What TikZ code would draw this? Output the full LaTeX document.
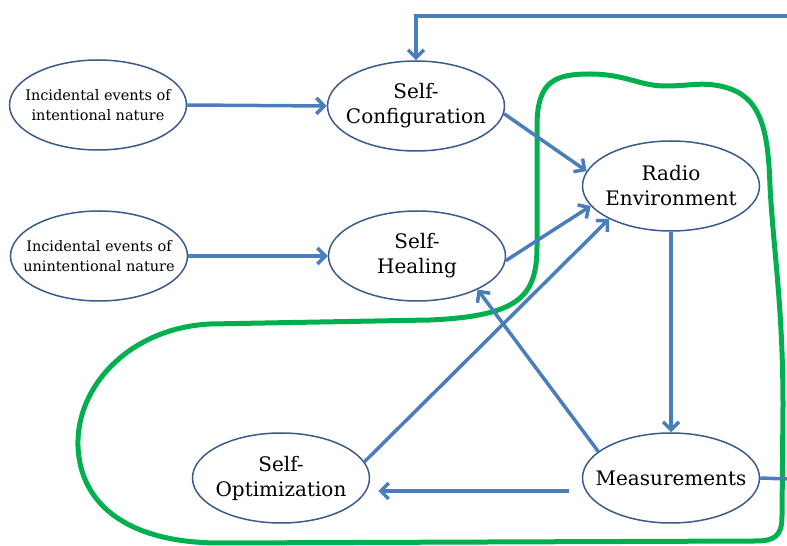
\documentclass[tikz,border=0pt]{standalone}
\usepackage{fontspec}
\setmainfont{DejaVu Serif}
\usetikzlibrary{shapes.geometric,arrows.meta,calc}
\definecolor{flowblue}{HTML}{4A7EBB}
\definecolor{rimblue}{HTML}{3B5A8C}
\definecolor{loopgreen}{HTML}{00B04F}
\tikzset{
  % fixed-size ellipse; the caption sits on it as a centred label
  bubble/.style={ellipse, draw=rimblue, line width=1.5pt, fill=white,
    minimum width=177pt, minimum height=90pt, inner sep=0pt,
    label={[align=center, font=\fontsize{20}{25}\selectfont]center:#1}},
  smallbubble/.style={ellipse, draw=rimblue, line width=1.5pt, fill=white,
    minimum width=177pt, minimum height=90pt, inner sep=0pt,
    label={[align=center, font=\fontsize{14.5}{19.5}\selectfont]center:#1}},
  flow/.style={draw=flowblue, line width=3.5pt,
    -{Straight Barb[length=8pt,width=16pt]}},
  plainflow/.style={draw=flowblue, line width=3.5pt},
  loop/.style={draw=loopgreen, line width=5pt, line join=round}
}
\begin{document}
\begin{tikzpicture}[x=1pt,y=1pt]
\useasboundingbox (0,0) rectangle (787,546);

% the self-organisation loop
\draw[loop] (537,300) -- (537,420)
  .. controls (537,465) and (555,472) .. (590,472)
  .. controls (625,472) and (640,460) .. (665,460)
  .. controls (690,460) and (700,464) .. (720,460)
  .. controls (760,452) and (768,420) .. (770,360)
  .. controls (773,300) and (783,240) .. (783,140)
  -- (782,30) .. controls (782,10) and (775,5) .. (755,5)
  -- (220,3) .. controls (130,3) and (80,40) .. (78,100)
  .. controls (76,160) and (130,218) .. (210,222)
  -- (430,226) .. controls (520,230) and (537,250) .. (537,300) -- cycle;

% nodes
\node[smallbubble={Incidental events of\\intentional nature}] (e1) at (98,441) {};
\node[smallbubble={Incidental events of\\unintentional nature}] (e2) at (99,290) {};
\node[bubble={Self-\\Configuration}] (sc) at (416,440) {};
\node[bubble={Self-\\Healing}] (sh) at (417,290) {};
\node[bubble={Radio\\Environment}] (re) at (671,360) {};
\node[bubble={Measurements}] (ms) at (671,68) {};
\node[bubble={Self-\\Optimization}] (so) at (281,68) {};

% open ends of the outer feedback path
\coordinate (fbtop) at (787,530);
\coordinate (fbside) at (787,67);

% connectors
\draw[flow] (e1.east) -- (sc.west);
\draw[flow] (e2.east) -- (sh.west);
\draw[flow] (sc.-5) -- (re.170);
\draw[flow] (sh.-3) -- (re.194);
\draw[flow] (so.11) -- (re.208);
\draw[flow] (ms.160) -- (sh.-29);
\draw[flow] (re.south) -- (ms.north);
\draw[flow] ([shift={(-13pt,-13pt)}]ms.west) -- ([shift={(8pt,-13pt)}]so.east);
\draw[plainflow] (ms.east) -- (fbside);
\draw[flow] (fbtop) -| (sc.north);
\end{tikzpicture}
\end{document}
